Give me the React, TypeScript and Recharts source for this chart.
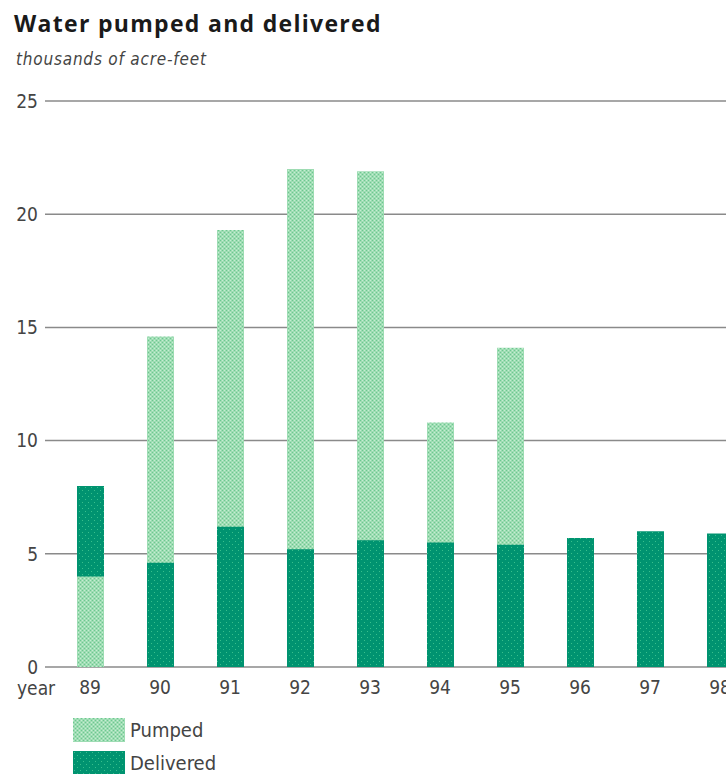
import React from "react";
import { BarChart, Bar, Cell, XAxis, YAxis, CartesianGrid } from "recharts";

const years = ["89", "90", "91", "92", "93", "94", "95", "96", "97", "98"];
const pumped = [4.0, 14.6, 19.3, 22.0, 21.9, 10.8, 14.1, null, null, null];
const delivered = [8.0, 4.6, 6.2, 5.2, 5.6, 5.5, 5.4, 5.7, 6.0, 5.9];
const yTicks = [0, 5, 10, 15, 20, 25];

const LIGHT = "url(#pumpedPat)";
const DARK = "url(#deliveredPat)";

// taller series goes behind, shorter one drawn in front
const data = years.map((year, i) => {
  const p = pumped[i];
  const d = delivered[i];
  if (p == null) {
    return { year, back: d, backFill: DARK, front: null, frontFill: LIGHT };
  }
  const pumpedTaller = p >= d;
  return {
    year,
    back: pumpedTaller ? p : d,
    backFill: pumpedTaller ? LIGHT : DARK,
    front: pumpedTaller ? d : p,
    frontFill: pumpedTaller ? DARK : LIGHT,
  };
});

const FONT = "'DejaVu Sans Condensed', 'DejaVu Sans', sans-serif";

const tickFont = {
  fontFamily: FONT,
  fontSize: 19,
  fill: "#444",
};

const Patterns = () => (
  <defs>
    <pattern id="pumpedPat" width="4" height="4" patternUnits="userSpaceOnUse">
      <rect width="4" height="4" fill="#9edcb3" />
      <rect x="0" y="0" width="1" height="1" fill="#6cc890" />
      <rect x="2" y="2" width="1" height="1" fill="#6cc890" />
      <rect x="2" y="0" width="1" height="1" fill="#c4efd3" />
      <rect x="0" y="2" width="1" height="1" fill="#c4efd3" />
    </pattern>
    <pattern id="deliveredPat" width="6" height="6" patternUnits="userSpaceOnUse">
      <rect width="6" height="6" fill="#009370" />
      <rect x="1" y="1" width="1" height="1" fill="#38bf8c" />
      <rect x="4" y="4" width="1" height="1" fill="#38bf8c" />
    </pattern>
  </defs>
);

const Swatch = ({ fill, h }: { fill: string; h: number }) => (
  <svg width={52} height={h} style={{ display: "block" }}>
    <Patterns />
    <rect width={52} height={h} fill={fill} />
  </svg>
);

export default function App() {
  return (
    <div
      style={{
        position: "absolute",
        left: 0,
        top: 0,
        width: 726,
        height: 774,
        overflow: "hidden",
        background: "#fff",
      }}
    >
      <div
        style={{
          position: "absolute",
          left: 14,
          top: 7,
          fontFamily: "'Open Sans', sans-serif",
          fontWeight: 700,
          fontSize: 23,
          letterSpacing: 1.3,
          color: "#1a1a1a",
          whiteSpace: "nowrap",
        }}
      >
        Water pumped and delivered
      </div>
      <div
        style={{
          position: "absolute",
          left: 16,
          top: 49,
          fontFamily: FONT,
          fontStyle: "italic",
          fontSize: 17,
          letterSpacing: 0.8,
          color: "#444",
          whiteSpace: "nowrap",
        }}
      >
        thousands of acre-feet
      </div>

      <div style={{ position: "absolute", left: 0, top: 0 }}>
        <BarChart
          width={755}
          height={720}
          data={data}
          margin={{ top: 101, right: 0, bottom: 23, left: 0 }}
          barGap={-27}
        >
          <Patterns />
          <CartesianGrid
            horizontal
            vertical={false}
            stroke="#8a8a8a"
            strokeWidth={1.5}
          />
          <XAxis
            dataKey="year"
            axisLine={false}
            tickLine={false}
            tickSize={0}
            tickMargin={14}
            height={30}
            padding={{ left: 10, right: 0 }}
            tick={tickFont}
            interval={0}
          />
          <YAxis
            domain={[0, 25]}
            ticks={yTicks}
            axisLine={false}
            tickLine={false}
            tickSize={0}
            tickMargin={7}
            width={45}
            tick={tickFont}
          />
          <Bar dataKey="back" barSize={27} isAnimationActive={false}>
            {data.map((d, i) => (
              <Cell key={`b-${i}`} fill={d.backFill} />
            ))}
          </Bar>
          <Bar dataKey="front" barSize={27} isAnimationActive={false}>
            {data.map((d, i) => (
              <Cell key={`f-${i}`} fill={d.frontFill} />
            ))}
          </Bar>
        </BarChart>
      </div>

      <div
        style={{
          position: "absolute",
          left: 17,
          top: 679,
          fontFamily: FONT,
          fontSize: 19,
          lineHeight: 1,
          color: "#444",
        }}
      >
        year
      </div>

      {[
        { label: "Pumped", fill: LIGHT, top: 718, h: 24 },
        { label: "Delivered", fill: DARK, top: 751, h: 23 },
      ].map((item) => (
        <div
          key={item.label}
          style={{
            position: "absolute",
            left: 73,
            top: item.top,
            display: "flex",
            alignItems: "center",
            height: item.h,
          }}
        >
          <Swatch fill={item.fill} h={item.h} />
          <span
            style={{
              marginLeft: 5,
              fontFamily: FONT,
              fontSize: 20,
              color: "#444",
              lineHeight: 1,
            }}
          >
            {item.label}
          </span>
        </div>
      ))}
    </div>
  );
}
